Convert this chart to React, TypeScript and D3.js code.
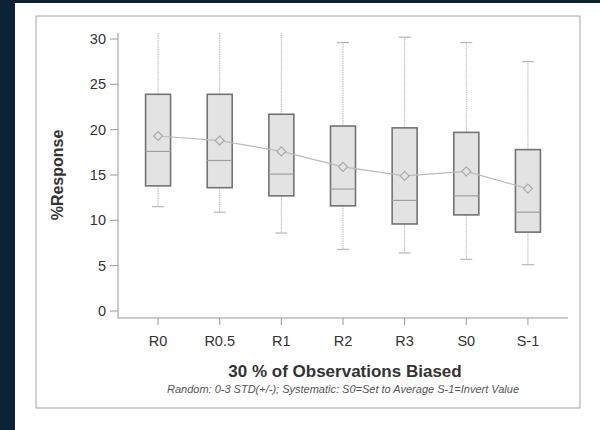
import React from "react";
import * as d3 from "d3";

const categories = ["R0", "R0.5", "R1", "R2", "R3", "S0", "S-1"];
const whiskerLow = [11.5, 10.9, 8.6, 6.8, 6.4, 5.7, 5.1];
const q1 = [13.8, 13.6, 12.7, 11.6, 9.6, 10.6, 8.7];
const median = [17.6, 16.6, 15.1, 13.45, 12.2, 12.7, 10.9];
const q3 = [23.9, 23.9, 21.7, 20.4, 20.2, 19.7, 17.8];
const whiskerHigh = [31, 31, 31, 29.6, 30.2, 29.6, 27.5];
const means = [19.3, 18.8, 17.6, 15.9, 14.9, 15.4, 13.5];
const yTicks = [0, 5, 10, 15, 20, 25, 30];

export default function App() {
  const W = 600, H = 430;
  const x0 = 118, x1 = 568, yTop = 33, yBase = 318;
  const x = d3.scalePoint<string>().domain(categories).range([x0, x1]).padding(0.65);
  const y = d3.scaleLinear().domain([0, 30]).range([311, 39]);
  const boxW = 25, capW = 12;
  const font = "Liberation Sans, Arial, sans-serif";
  const meanLine = d3.line<number>().x((_, i) => x(categories[i])!).y((d) => y(d));

  return (
    <svg width={W} height={H} style={{ position: "absolute", left: 0, top: 0 }} fontFamily={font}>
      <defs>
        <clipPath id="plot">
          <rect x={x0} y={yTop} width={x1 - x0} height={yBase - yTop} />
        </clipPath>
      </defs>
      <rect x={0} y={0} width={W} height={H} fill="#0c2236" />
      <rect x={15} y={3} width={W - 15} height={H - 3} fill="#ffffff" />
      <rect x={36} y={16} width={544} height={392} fill="none" stroke="#a5a5a5" strokeWidth={1} />

      {/* axes */}
      <line x1={x0} x2={x0} y1={yTop} y2={yBase} stroke="#999" strokeWidth={1} />
      <line x1={x0} x2={x1} y1={yBase} y2={yBase} stroke="#999" strokeWidth={1} />
      {yTicks.map((t) => (
        <g key={t}>
          <line x1={x0 - 8} x2={x0} y1={y(t)} y2={y(t)} stroke="#999" />
          <text x={x0 - 12} y={y(t)} dy="0.35em" textAnchor="end" fontSize={14.5} fill="#333">
            {t}
          </text>
        </g>
      ))}
      {categories.map((c) => (
        <g key={c}>
          <line x1={x(c)} x2={x(c)} y1={yBase} y2={yBase + 7} stroke="#999" />
          <text x={x(c)} y={341} dy="0.35em" textAnchor="middle" fontSize={14.5} fill="#333">
            {c}
          </text>
        </g>
      ))}

      {/* boxes */}
      <g clipPath="url(#plot)">
        {categories.map((c, i) => {
          const cx = x(c)!;
          return (
            <g key={c}>
              <line x1={cx} x2={cx} y1={y(q3[i])} y2={y(whiskerHigh[i])} stroke="#b8b8b8" strokeWidth={1} strokeDasharray="1.5,0.8" />
              <line x1={cx} x2={cx} y1={y(q1[i])} y2={y(whiskerLow[i])} stroke="#b8b8b8" strokeWidth={1} strokeDasharray="1.5,0.8" />
              <line x1={cx - capW / 2} x2={cx + capW / 2} y1={y(whiskerHigh[i])} y2={y(whiskerHigh[i])} stroke="#aaa" />
              <line x1={cx - capW / 2} x2={cx + capW / 2} y1={y(whiskerLow[i])} y2={y(whiskerLow[i])} stroke="#aaa" />
              <rect x={cx - boxW / 2} y={y(q3[i])} width={boxW} height={y(q1[i]) - y(q3[i])} fill="#e3e3e3" stroke="#737373" strokeWidth={1.6} />
              <line x1={cx - boxW / 2} x2={cx + boxW / 2} y1={y(median[i])} y2={y(median[i])} stroke="#a0a0a0" strokeWidth={1.2} />
            </g>
          );
        })}
        <path d={meanLine(means) || ""} fill="none" stroke="#bbb" strokeWidth={1.2} />
        {means.map((m, i) => {
          const cx = x(categories[i])!;
          const cy = y(m);
          const r = 4.5;
          return (
            <path key={i} d={`M${cx},${cy - r}L${cx + r},${cy}L${cx},${cy + r}L${cx - r},${cy}Z`} fill="#e3e3e3" stroke="#aaa" strokeWidth={1.2} />
          );
        })}
      </g>

      <text transform={`translate(63,175) rotate(-90)`} textAnchor="middle" fontSize={16} fontWeight="bold" fill="#333">
        %Response
      </text>
      <text x={345} y={371} dy="0.35em" textAnchor="middle" fontSize={17} fontWeight="bold" fill="#333">
        30 % of Observations Biased
      </text>
      <text x={343} y={389} dy="0.35em" textAnchor="middle" fontSize={11} fontStyle="italic" fill="#555">
        Random: 0-3 STD(+/-); Systematic: S0=Set to Average S-1=Invert Value
      </text>
    </svg>
  );
}
